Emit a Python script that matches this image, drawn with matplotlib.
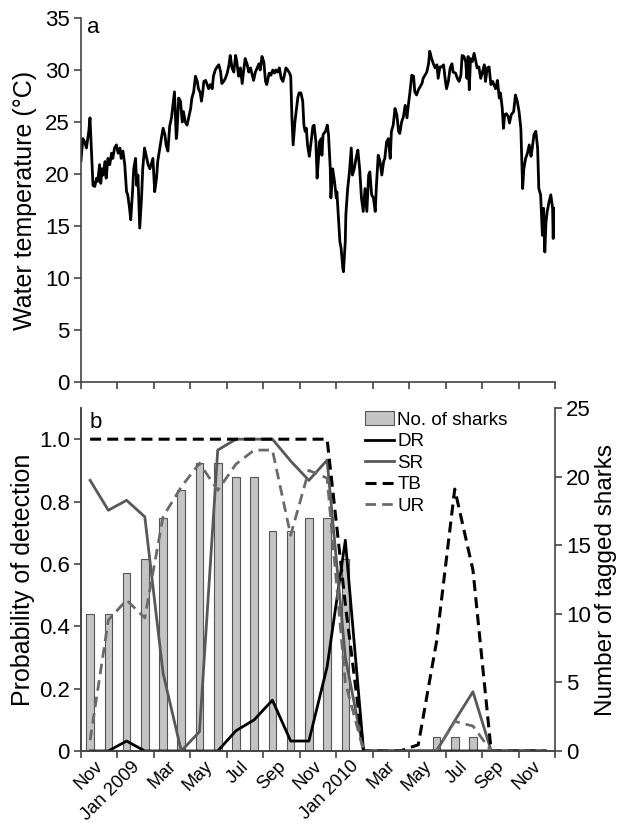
import numpy as np
import matplotlib.pyplot as plt

plt.rcParams['font.family'] = ['Liberation Sans', 'DejaVu Sans']

# panel a: water temperature, (day since 1 Nov 2008, deg C)
temp_day = [0, 3, 6, 9, 11, 13, 15, 17, 20, 23, 26, 28, 31, 33, 35, 37, 40, 42, 45, 48,
            51, 53, 56, 59, 62, 65, 67, 70, 73, 76, 78, 81, 83, 86, 88, 91, 93, 95, 98, 101,
            103, 106, 109, 112, 115, 117, 120, 123, 126, 128, 131, 134, 137, 140, 142, 145, 148, 151,
            156, 159, 160, 163, 166, 169, 171, 174, 177, 180, 183, 185, 188, 191, 194, 196, 199, 201,
            203, 205, 208, 210, 213, 216, 219, 221, 224, 227, 230, 233, 235, 238, 241, 244, 247, 249,
            252, 255, 258, 260, 263, 266, 269, 272, 274, 277, 280, 283, 285, 288, 291, 294, 297, 299,
            302, 305, 308, 310,
            314, 317, 320, 323, 325, 328, 331, 334, 337, 339, 342, 345, 348, 350, 352, 354, 357, 359,
            362, 364, 367, 370, 372, 374, 376, 378, 381, 384, 387, 389, 392, 394, 396, 398, 401, 402,
            404, 408, 411, 413, 416, 417, 420, 423, 426, 427, 430, 432, 434, 437, 438, 441, 442, 445,
            448, 451, 453, 456, 459, 462, 465,
            468, 471, 474, 477, 480, 482, 485, 488, 491, 493, 496, 499, 502, 505, 507, 510, 513, 516,
            518, 521, 524, 527, 530, 532, 535, 538, 541, 544, 546, 549, 552, 555, 557, 560, 563, 566,
            569, 571, 574, 577, 580, 582, 585, 588, 591, 594, 596, 599, 602, 605, 608, 610, 613, 616,
            619, 621,
            625, 628, 631, 634, 636, 639, 642, 644, 646, 648, 650, 653, 656, 659, 661, 664, 667, 670,
            673, 675, 678, 681, 684, 687, 689, 692, 695, 698, 700, 703, 705, 707, 710, 713, 715, 718,
            722, 725, 728, 731, 734, 737, 739, 742, 745, 748, 751, 753, 756, 759, 762, 764, 767, 770,
            772, 774, 776, 778, 781, 784, 787, 788, 789]
temp_c = [21.3, 23.4, 23.1, 22.5, 23.3, 24.1, 25.4, 22.8, 18.9, 18.8, 19.6, 19.3, 20.9, 19.1, 20.5, 19.9, 21.2, 19.6, 21.5, 20.9,
          22.0, 21.5, 22.5, 22.8, 22.0, 22.5, 21.5, 22.2, 20.9, 18.3, 18.0, 16.7, 15.6, 18.3, 20.5, 21.5, 18.9, 19.9, 14.8, 17.7,
          20.5, 22.5, 21.7, 20.9, 20.5, 20.9, 21.5, 18.3, 19.6, 21.2, 22.3, 23.4, 24.4, 23.8, 22.8, 22.2, 24.6, 25.4,
          27.9, 23.4, 23.8, 27.3, 27.0, 25.0, 26.0, 25.0, 24.7, 25.5, 26.3, 27.3, 27.9, 29.4, 28.9, 28.2, 27.8, 27.0,
          27.8, 28.9, 29.0, 28.7, 28.2, 28.6, 28.2, 29.4, 30.0, 30.3, 30.5, 29.8, 28.7, 28.9, 29.2, 29.7, 30.5, 31.4,
          30.2, 29.8, 31.4, 30.8, 29.4, 30.2, 28.7, 30.2, 31.1, 30.6, 29.8, 30.2, 29.7, 29.0, 29.8, 30.2, 30.6, 30.0,
          31.3, 30.8, 28.9, 28.6,
          29.7, 29.5, 30.0, 29.7, 30.0, 29.8, 30.2, 29.2, 28.9, 29.4, 30.2, 30.0, 29.7, 29.4, 25.4, 22.8, 25.0, 26.0,
          27.4, 27.8, 27.8, 27.0, 24.7, 24.1, 24.4, 22.8, 21.7, 23.1, 24.6, 24.7, 23.1, 19.6, 21.2, 23.1, 23.4, 21.8,
          23.8, 24.1, 24.7, 23.8, 20.5, 17.7, 20.5, 19.3, 17.7, 18.3, 15.4, 13.5, 12.9, 10.9, 10.6, 13.5, 16.1, 18.6,
          20.2, 22.5, 19.9, 20.5, 21.5, 22.3, 20.5,
          17.7, 16.4, 18.6, 16.4, 19.9, 20.2, 18.0, 17.7, 16.4, 18.9, 21.8, 21.2, 19.9, 21.2, 21.5, 23.1, 23.4, 21.5,
          24.1, 24.7, 26.3, 25.7, 24.1, 23.9, 25.0, 25.5, 26.6, 25.4, 26.5, 27.9, 29.5, 29.4, 27.9, 27.6, 28.1, 28.4,
          28.7, 29.2, 29.5, 29.8, 30.6, 31.8, 31.1, 30.6, 30.2, 30.5, 29.2, 30.3, 30.3, 30.5, 29.0, 28.2, 28.9, 30.2,
          30.6, 29.8,
          29.7, 29.2, 28.9, 29.5, 31.4, 31.3, 30.8, 29.2, 31.3, 28.1, 31.1, 30.8, 31.6, 30.8, 30.2, 30.3, 29.2, 29.8,
          30.5, 28.9, 30.2, 30.3, 28.6, 28.9, 28.6, 28.2, 29.0, 27.3, 27.8, 26.3, 24.4, 25.7, 25.8, 25.5, 24.9, 25.7,
          26.0, 27.6, 27.0, 26.0, 24.4, 18.6, 20.5, 21.5, 22.0, 22.8, 21.7, 22.5, 23.8, 24.1, 22.5, 18.6, 18.0, 14.1,
          16.7, 12.5, 15.4, 16.4, 17.3, 18.0, 16.7, 13.8, 16.7]

# panel b: monthly values, Nov 2008 .. Dec 2010
month_labels = ['Nov', 'Jan 2009', 'Mar', 'May', 'Jul', 'Sep', 'Nov',
                'Jan 2010', 'Mar', 'May', 'Jul', 'Sep', 'Nov']
n_sharks = [10, 10, 13, 14, 17, 19, 21, 21, 20, 20, 16, 16, 17, 17, 14,
            0, 0, 0, 0, 1, 1, 1, 0, 0, 0, 0]
p_dr = [0, 0, 0.032, 0, 0, 0, 0, 0, 0.065, 0.1, 0.163, 0.032, 0.032, 0.27, 0.676,
        0, 0, 0, 0, 0, 0, 0, 0, 0, 0, 0]
p_sr = [0.868, 0.772, 0.804, 0.751, 0.25, 0.0, 0.062, 0.965, 1.0, 1.0, 1.0, 0.93, 0.868, 0.933, 0.3,
        0, 0, 0, 0, 0, 0.097, 0.19, 0, 0, 0, 0]
p_tb = [1, 1, 1, 1, 1, 1, 1, 1, 1, 1, 1, 1, 1, 1, 0.47,
        0, 0, 0, 0.02, 0.35, 0.84, 0.58, 0, 0, 0, 0]
p_ur = [0.035, 0.42, 0.484, 0.427, 0.751, 0.847, 0.923, 0.836, 0.92, 0.965, 0.965, 0.692, 0.9, 0.875, 0.22,
        0, 0, 0, 0, 0, 0.095, 0.08, 0, 0, 0, 0]

n_months = len(n_sharks)
mx = np.arange(n_months)
days_per_month = 791 / n_months
tx = np.array(temp_day) / days_per_month - 0.5

spine_c = '#444444'
fig = plt.figure(figsize=(6.19, 8.24), dpi=100)
ax1 = fig.add_axes([81/619, 1-382/824, 474/619, 364/824])
ax2 = fig.add_axes([81/619, 1-751/824, 474/619, 343/824])
ax2r = ax2.twinx()

# ---- panel a
ax1.plot(tx, temp_c, color='black', lw=2.0)
ax1.set_xlim(-0.5, n_months - 0.5)
ax1.set_ylim(0, 35)
ax1.set_yticks(range(0, 36, 5))
ax1.set_xticks(np.arange(-0.5, n_months, 2))
ax1.set_xticklabels([])
ax1.set_ylabel('Water temperature (°C)', fontsize=18, labelpad=6)
ax1.text(0.013, 0.959, 'a', transform=ax1.transAxes, fontsize=16, va='baseline')
for s in ['top', 'right']:
    ax1.spines[s].set_visible(False)

# ---- panel b
ax2r.bar(mx, n_sharks, width=0.42, color='#c4c4c4', edgecolor='#555555', lw=0.8,
         label='No. of sharks')
ax2r.set_ylim(0, 25)
ax2r.set_yticks(range(0, 26, 5))
ax2r.set_ylabel('Number of tagged sharks', fontsize=17.5, labelpad=3)

ax2.set_zorder(ax2r.get_zorder() + 1)
ax2.patch.set_visible(False)
ax2.plot(mx, p_dr, color='black', lw=2.0, label='DR')
ax2.plot(mx, p_sr, color='#585858', lw=2.0, label='SR')
ax2.plot(mx, p_tb, color='black', lw=2.2, ls=(0, (3.6, 2.0)), label='TB')
ax2.plot(mx, p_ur, color='#6a6a6a', lw=2.0, ls=(0, (3.8, 2.2)), label='UR')
ax2.set_xlim(-0.5, n_months - 0.5)
ax2.set_ylim(0, 1.1)
ax2.set_yticks([0, 0.2, 0.4, 0.6, 0.8, 1.0])
ax2.set_yticklabels(['0', '0.2', '0.4', '0.6', '0.8', '1.0'])
ax2.set_ylabel('Probability of detection', fontsize=18, labelpad=3)
ax2.set_xticks(np.arange(-0.5, n_months, 2))
ax2.set_xticklabels([])
ax2.set_xticks(np.arange(0.25, n_months, 2), minor=True)
ax2.set_xticklabels(month_labels, minor=True, rotation=45, ha='right',
                    rotation_mode='anchor', fontsize=13.2)
ax2.tick_params(axis='x', which='minor', length=0, pad=5)
ax2.text(0.019, 0.942, 'b', transform=ax2.transAxes, fontsize=16, va='baseline')

h1, l1 = ax2r.get_legend_handles_labels()
h2, l2 = ax2.get_legend_handles_labels()
ax2.legend(h1 + h2, l1 + l2, loc='upper left', bbox_to_anchor=(0.6, 0.99),
           frameon=False, fontsize=13.5, handlelength=1.5, handletextpad=0.2,
           labelspacing=0.24, borderpad=0, borderaxespad=0)

for ax in [ax2, ax2r]:
    ax.spines['top'].set_visible(False)
ax2.spines['right'].set_visible(False)

for ax in [ax1, ax2, ax2r]:
    for s in ax.spines.values():
        s.set_color(spine_c)
        s.set_linewidth(1.2)
    ax.tick_params(which='major', direction='out', length=5, width=1.2,
                   color=spine_c, labelsize=16, pad=3)

fig.savefig('out.png', dpi=100)
